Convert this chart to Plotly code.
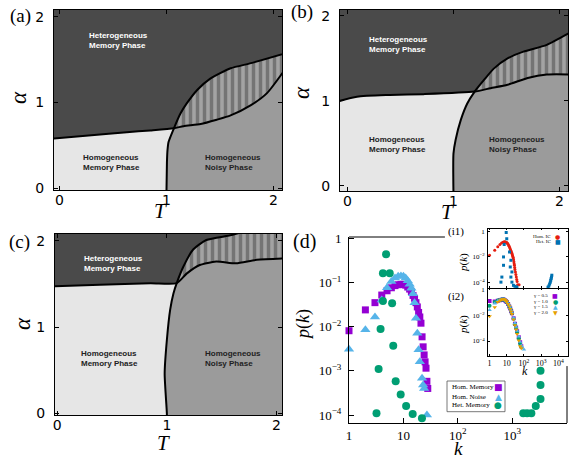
import plotly.graph_objects as go

W, H = 571, 462

# ---------------- Phase diagrams: boundary curves (T, alpha) ----------------
# (a)
a_Aleft_T = [-0.10, 0.30, 0.63, 0.85, 1.07]
a_Aleft_al = [0.575, 0.62, 0.655, 0.675, 0.70]
a_Aright_T = [1.07, 1.16, 1.32, 1.47, 1.60, 1.79, 1.94, 2.15]
a_Aright_al = [0.70, 0.725, 0.75, 0.80, 0.85, 0.97, 1.11, 1.46]
a_Blow_T = [1.00, 1.005, 1.01, 1.02, 1.07]
a_Blow_al = [-0.10, 0.30, 0.44, 0.54, 0.70]
a_Bup_T = [1.07, 1.13, 1.19, 1.29, 1.41, 1.60, 1.79, 2.15]
a_Bup_al = [0.70, 0.87, 0.99, 1.15, 1.28, 1.40, 1.46, 1.59]

# (b)
b_Aleft_T = [-0.10, 0.09, 0.40, 0.72, 1.20]
b_Aleft_al = [0.99, 1.05, 1.07, 1.08, 1.11]
b_Aright_T = [1.20, 1.35, 1.51, 1.70, 1.88, 2.15]
b_Aright_al = [1.11, 1.15, 1.19, 1.27, 1.31, 1.31]
b_Blow_T = [1.00, 1.00, 1.02, 1.07, 1.13, 1.20]
b_Blow_al = [-0.10, 0.38, 0.54, 0.78, 0.97, 1.11]
b_Bup_T = [1.20, 1.29, 1.38, 1.51, 1.66, 1.88, 2.15]
b_Bup_al = [1.11, 1.25, 1.38, 1.50, 1.58, 1.66, 1.84]

# (c)
c_Aleft_T = [-0.10, 0.39, 0.85, 1.09]
c_Aleft_al = [1.47, 1.49, 1.51, 1.51]
c_Aright_T = [1.09, 1.18, 1.30, 1.45, 1.63, 1.82, 2.15]
c_Aright_al = [1.51, 1.62, 1.72, 1.76, 1.74, 1.78, 1.80]
c_Blow_T = [1.00, 1.00, 0.98, 1.00, 1.03, 1.06, 1.09]
c_Blow_al = [-0.10, 0.00, 0.46, 0.85, 1.20, 1.39, 1.51]
c_Bup_T = [1.09, 1.15, 1.24, 1.36, 1.60, 1.80]
c_Bup_al = [1.51, 1.70, 1.90, 2.01, 2.07, 2.15]

phase_ticks = [0, 1, 2]

# ---------------- (d) main degree distributions ----------------
hom_mem_k = [1, 2, 3, 4, 5, 6, 7, 8, 9, 10, 11, 12, 13, 14, 15, 16, 17, 18, 19, 20,
             21, 22, 23, 24, 25, 26, 27, 28, 33]
hom_mem_p = [8.1e-3, 2.4e-2, 3.5e-2, 5.2e-2, 6.5e-2, 7.6e-2, 8.5e-2, 8.9e-2, 9.1e-2, 9.1e-2,
             8.7e-2, 7.9e-2, 7.1e-2, 6.2e-2, 5.1e-2, 4.4e-2, 3.5e-2, 2.8e-2, 2.1e-2, 1.66e-2,
             1.2e-2, 5.9e-3, 3.5e-3, 2.3e-3, 1.6e-3, 1.15e-3, 5.8e-4, 4.0e-4, 6.5e-5]

hom_noise_k = [1, 2, 3, 4, 5, 6, 7, 8, 9, 10, 11, 12, 13, 14, 15, 16, 17, 18, 19, 20,
               22, 23, 24, 27]
hom_noise_p = [3.1e-3, 8.5e-3, 1.66e-2, 4.0e-2, 7.6e-2, 0.105, 0.126, 0.138, 0.141, 0.138,
               0.126, 0.110, 9.1e-2, 7.4e-2, 5.6e-2, 3.5e-2, 1.55e-2, 7.1e-3, 3.0e-3, 1.6e-3,
               6.8e-4, 4.8e-4, 4.0e-4, 1.0e-4]

het_mem_k = [3.2, 3.5, 3.8, 4.2, 4.2, 4.8, 5.6, 6.2, 6.5, 7.2, 8.9, 11.2, 14.8, 21.9,
             1590, 1870, 2240, 2700, 3300, 3300, 3300]
het_mem_p = [1.1e-4, 1.1e-3, 8.9e-3, 0.162, 3.8e-2, 0.437, 0.162, 3.4e-2, 3.7e-3, 5.8e-4,
             2.9e-4, 1.6e-4, 1.05e-4, 8.5e-5,
             1.1e-4, 1.1e-4, 1.1e-4, 1.6e-4, 2.3e-4, 4.8e-4, 1.0e-3]

# ---------------- inset (i1) ----------------
homIC_k = [1, 2, 3, 4, 5, 6, 7, 8, 9, 10, 11, 12, 13, 14, 15, 16, 17, 18, 19, 20,
           21, 22, 23, 24, 25, 26, 27, 28, 29, 30, 32, 34, 36, 38, 40, 43, 52]
homIC_p = [1.3e-2, 3.2e-2, 5.9e-2, 8.9e-2, 0.117, 0.138, 0.145, 0.145, 0.138, 0.129,
           0.112, 9.3e-2, 7.6e-2, 6.3e-2, 5.0e-2, 4.0e-2, 3.2e-2, 2.5e-2, 2.1e-2, 1.74e-2,
           1.41e-2, 1.12e-2, 9.3e-3, 7.9e-3, 5.6e-3, 4.0e-3, 2.8e-3, 2.1e-3, 1.4e-3, 1.0e-3,
           6.3e-4, 4.0e-4, 2.5e-4, 1.6e-4, 1.1e-4, 6.3e-5, 6.3e-5]

hetIC_k = [9.3, 10, 7.1, 14.5, 6.5, 17.4, 6.5, 16, 20, 5.2, 17.4, 4.6, 20, 24.5, 30, 39,
           2500, 2800, 3100, 3400, 3600, 3800, 4000, 4170]
hetIC_p = [0.79, 0.26, 8.9e-2, 2.3e-2, 9.5e-3, 5.2e-3, 2.1e-3, 1.55e-3, 6.3e-4, 2.5e-4,
           2.5e-4, 1.0e-4, 1.0e-4, 5.6e-5, 4.7e-5, 4.2e-5,
           4.0e-5, 5.0e-5, 7.1e-5, 1.0e-4, 1.4e-4, 1.9e-4, 2.5e-4, 3.5e-4]

# ---------------- inset (i2) ----------------
gam_k = [1, 2, 3, 4, 5, 6, 7, 8, 9, 10, 12, 14, 16, 18, 20, 25, 30, 35, 40, 50, 60, 70, 80, 100]
gam05_p = [0.120, 0.112, 0.126, 0.141, 0.151, 0.158, 0.151, 0.135, 0.117, 0.100, 7.1e-2,
           4.7e-2, 3.2e-2, 2.1e-2, 1.41e-2, 5.6e-3, 2.2e-3, 1.1e-3, 5.6e-4, 2.0e-4, 7.9e-5, 4.0e-5]
gam10_p = [5.2e-2, 0.100, 0.132, 0.148, 0.158, 0.162, 0.158, 0.141, 0.120, 0.102, 7.2e-2,
           4.8e-2, 3.2e-2, 2.1e-2, 1.38e-2, 5.2e-3, 2.0e-3, 1.0e-3, 5.0e-4, 1.6e-4, 6.3e-5, 3.5e-5]
gam15_p = [2.5e-2, 7.9e-2, 0.120, 0.145, 0.158, 0.166, 0.162, 0.148, 0.126, 0.107, 7.9e-2,
           5.2e-2, 3.5e-2, 2.4e-2, 1.58e-2, 6.3e-3, 2.5e-3, 1.26e-3, 6.3e-4, 2.2e-4, 8.9e-5,
           4.5e-5, 3.2e-5, 2.2e-5]
gam20_p = [8.3e-3, 4.0e-2, 0.100, 0.132, 0.158, 0.170, 0.166, 0.148, 0.126, 0.105, 7.2e-2,
           4.8e-2, 3.0e-2, 1.9e-2, 1.2e-2, 4.5e-3, 1.66e-3, 7.9e-4, 3.5e-4, 1.1e-4, 4.0e-5, 2.8e-5]

# ---------------- styles ----------------
DARK = "#4a4a4a"
LIGHT = "#e6e6e6"
MID = "#9b9b9b"
PURPLE = "#9400d3"
GREEN = "#009e73"
SKY = "#56b4e9"
ORANGE = "#e69f00"
RED = "#e51e10"
BLUE = "#0072b2"
SERIF = "Liberation Serif"
SANS = "Liberation Sans"


def xdom(x0, x1):
    return [x0 / W, x1 / W]


def ydom(top, bottom):
    return [1 - bottom / H, 1 - top / H]


fig = go.Figure()
shapes = []
annotations = []


def phase_panel(n, AlT, Ala, ArT, Ara, BlT, Bla, BuT, Bua, texts):
    xa = "x" if n == 1 else f"x{n}"
    ya = "y" if n == 1 else f"y{n}"
    # dark background = heterogeneous memory phase
    shapes.append(dict(type="rect", xref=f"{xa} domain", yref=f"{ya} domain",
                       x0=0, x1=1, y0=0, y1=1, fillcolor=DARK, line_width=0, layer="below"))
    # homogeneous memory phase
    lx = AlT + BlT[::-1] + [AlT[0]]
    ly = Ala + Bla[::-1] + [Bla[0]]
    fig.add_trace(go.Scatter(x=lx, y=ly, fill="toself", fillcolor=LIGHT, mode="lines",
                             line=dict(width=0), xaxis=xa, yaxis=ya, hoverinfo="skip",
                             showlegend=False))
    # homogeneous noisy phase
    nx = BlT + ArT[1:] + [ArT[-1]]
    ny = Bla + Ara[1:] + [Bla[0]]
    fig.add_trace(go.Scatter(x=nx, y=ny, fill="toself", fillcolor=MID, mode="lines",
                             line=dict(width=0), xaxis=xa, yaxis=ya, hoverinfo="skip",
                             showlegend=False))
    # coexistence (hatched)
    hx = ArT + [ArT[-1]] + BuT[::-1]
    hy = Ara + [Bua[-1]] + Bua[::-1]
    fig.add_trace(go.Scatter(x=hx, y=hy, fill="toself", fillcolor=MID, mode="lines",
                             line=dict(width=0), xaxis=xa, yaxis=ya, hoverinfo="skip",
                             fillpattern=dict(shape="|", fgcolor="#454545", bgcolor="#a3a3a3",
                                              size=7, solidity=0.5),
                             showlegend=False))
    # boundary lines
    fig.add_trace(go.Scatter(x=AlT + ArT[1:], y=Ala + Ara[1:], mode="lines",
                             line=dict(color="black", width=2, shape="spline", smoothing=0.6),
                             xaxis=xa, yaxis=ya, hoverinfo="skip", showlegend=False))
    fig.add_trace(go.Scatter(x=BlT + BuT[1:], y=Bla + Bua[1:], mode="lines",
                             line=dict(color="black", width=2, shape="spline", smoothing=0.6),
                             xaxis=xa, yaxis=ya, hoverinfo="skip", showlegend=False))
    for (txt, tx, ty, col) in texts:
        annotations.append(dict(text=f"<b>{txt}</b>", x=tx, y=ty, xref=xa, yref=ya,
                                showarrow=False, xanchor="left", yanchor="middle",
                                align="left", font=dict(family=SANS, size=8, color=col)))


phase_panel(1, a_Aleft_T, a_Aleft_al, a_Aright_T, a_Aright_al, a_Blow_T, a_Blow_al,
            a_Bup_T, a_Bup_al,
            [("Heterogeneous<br>Memory Phase", 0.26, 1.73, "white"),
             ("Homogeneous<br>Memory Phase", 0.20, 0.30, "#222222"),
             ("Homogeneous<br>Noisy Phase", 1.34, 0.30, "#222222")])
phase_panel(2, b_Aleft_T, b_Aleft_al, b_Aright_T, b_Aright_al, b_Blow_T, b_Blow_al,
            b_Bup_T, b_Bup_al,
            [("Heterogeneous<br>Memory Phase", 0.18, 1.66, "white"),
             ("Homogeneous<br>Memory Phase", 0.18, 0.49, "#222222"),
             ("Homogeneous<br>Noisy Phase", 1.32, 0.49, "#222222")])
phase_panel(3, c_Aleft_T, c_Aleft_al, c_Aright_T, c_Aright_al, c_Blow_T, c_Blow_al,
            c_Bup_T, c_Bup_al,
            [("Heterogeneous<br>Memory Phase", 0.23, 1.74, "white"),
             ("Homogeneous<br>Memory Phase", 0.20, 0.63, "#222222"),
             ("Homogeneous<br>Noisy Phase", 1.33, 0.63, "#222222")])

# ---------------- (d) main ----------------
fig.add_trace(go.Scatter(x=hom_mem_k, y=hom_mem_p, mode="markers", xaxis="x4", yaxis="y4",
                         marker=dict(symbol="square", size=7, color=PURPLE), cliponaxis=False,
                         showlegend=False))
fig.add_trace(go.Scatter(x=hom_noise_k, y=hom_noise_p, mode="markers", xaxis="x4", yaxis="y4",
                         marker=dict(symbol="triangle-up", size=9, color=SKY), cliponaxis=False,
                         showlegend=False))
fig.add_trace(go.Scatter(x=het_mem_k, y=het_mem_p, mode="markers", xaxis="x4", yaxis="y4",
                         marker=dict(symbol="circle", size=8, color=GREEN), cliponaxis=False,
                         showlegend=False))

# ---------------- insets ----------------
fig.add_trace(go.Scatter(x=homIC_k, y=homIC_p, mode="markers", xaxis="x5", yaxis="y5",
                         marker=dict(symbol="circle", size=3, color=RED), showlegend=False))
fig.add_trace(go.Scatter(x=hetIC_k, y=hetIC_p, mode="markers", xaxis="x5", yaxis="y5",
                         marker=dict(symbol="square", size=3, color=BLUE), showlegend=False))
for vals, sym, col in [(gam05_p, "square", PURPLE), (gam10_p, "circle", GREEN),
                       (gam15_p, "triangle-up", SKY), (gam20_p, "triangle-down", ORANGE)]:
    fig.add_trace(go.Scatter(x=gam_k[:len(vals)], y=vals, mode="markers", xaxis="x6", yaxis="y6",
                             marker=dict(symbol=sym, size=4, color=col), showlegend=False))

# ---------------- axes ----------------
def phase_axis(dom, rng, standoff):
    return dict(domain=dom, range=rng, tickvals=phase_ticks, showgrid=False, zeroline=False,
                showline=True, linecolor="black", linewidth=1, mirror="ticks",
                ticks="inside", ticklen=4, tickcolor="black", ticklabelstandoff=standoff,
                tickfont=dict(family="DejaVu Sans", size=14, color="black"))


def sup(e):
    return f"10<sup>{e}</sup>"


layout = dict(
    width=W, height=H, margin=dict(l=0, r=0, t=0, b=0, autoexpand=False),
    paper_bgcolor="white", plot_bgcolor="white", showlegend=False,
    xaxis=dict(**phase_axis(xdom(54, 282), [-0.05, 2.08], -3), anchor="y"),
    yaxis=dict(**phase_axis(ydom(10, 190), [-0.02, 2.08], 6), anchor="x"),
    xaxis2=dict(**phase_axis(xdom(340, 568), [-0.07, 2.08], -3), anchor="y2"),
    yaxis2=dict(**phase_axis(ydom(10, 191), [-0.06, 2.07], 6), anchor="x2"),
    xaxis3=dict(**phase_axis(xdom(55, 282), [-0.02, 2.05], -3), anchor="y3"),
    yaxis3=dict(**phase_axis(ydom(234, 415), [-0.02, 2.08], 6), anchor="x3"),
    xaxis4=dict(domain=xdom(349, 567), type="log", range=[0, 4.005], anchor="y4",
                tickvals=[1, 10, 100, 1000, 10000],
                ticktext=["1", "10", sup(2), sup(3), sup(4)],
                showgrid=False, zeroline=False, showline=True, linecolor="black", linewidth=1,
                ticks="inside", ticklen=5, tickcolor="black", ticklabelstandoff=0,
                tickfont=dict(family=SERIF, size=13, color="black")),
    yaxis4=dict(domain=ydom(237, 423), type="log", range=[-4.18, 0.03], anchor="x4",
                tickvals=[1e-4, 1e-3, 1e-2, 1e-1, 1],
                ticktext=[sup("−4"), sup("−3"), sup("−2"), sup("−1"), "1"],
                showgrid=False, zeroline=False, showline=True, linecolor="black", linewidth=1,
                ticks="inside", ticklen=5, tickcolor="black", ticklabelstandoff=4,
                tickfont=dict(family=SERIF, size=13, color="black")),
    xaxis5=dict(domain=xdom(488, 568), type="log", range=[-0.09, 4.56], anchor="y5",
                tickvals=[1, 10, 100, 1000, 10000], showticklabels=False,
                showgrid=False, zeroline=False, showline=True, linecolor="black", linewidth=0.8,
                mirror="ticks", ticks="inside", ticklen=2, tickcolor="black"),
    yaxis5=dict(domain=ydom(228.5, 288), type="log", range=[-4.46, 0.21], anchor="x5",
                tickvals=[1e-4, 1e-2, 1], ticktext=[sup("−4"), sup("−2"), "1"],
                showgrid=False, zeroline=False, showline=True, linecolor="black", linewidth=0.8,
                mirror="ticks", ticks="inside", ticklen=2, tickcolor="black", ticklabelstandoff=1,
                tickfont=dict(family=SERIF, size=7, color="black")),
    xaxis6=dict(domain=xdom(488, 568), type="log", range=[-0.09, 4.56], anchor="y6",
                tickvals=[1, 10, 100, 1000, 10000],
                ticktext=["1", "10", sup(2), sup(3), sup(4)],
                showgrid=False, zeroline=False, showline=True, linecolor="black", linewidth=0.8,
                mirror="ticks", ticks="inside", ticklen=2, tickcolor="black", ticklabelstandoff=0,
                tickfont=dict(family=SERIF, size=8, color="black")),
    yaxis6=dict(domain=ydom(288.5, 355.7), type="log", range=[-5.13, 0.05], anchor="x6",
                tickvals=[1e-4, 1e-2, 1], ticktext=[sup("−4"), sup("−2"), "1"],
                showgrid=False, zeroline=False, showline=True, linecolor="black", linewidth=0.8,
                mirror="ticks", ticks="inside", ticklen=2, tickcolor="black", ticklabelstandoff=1,
                tickfont=dict(family=SERIF, size=7, color="black")),
)

# partial frame of (d) (the inset hides the rest)
shapes.append(dict(type="line", xref="x4 domain", yref="y4 domain", x0=0, x1=0.44, y0=1, y1=1,
                   line=dict(color="black", width=1), layer="above"))
shapes.append(dict(type="line", xref="x4 domain", yref="y4 domain", x0=1, x1=1, y0=0, y1=0.306,
                   line=dict(color="black", width=1), layer="above"))
# legend box of (d)
shapes.append(dict(type="rect", xref="paper", yref="paper", x0=447 / W, x1=505 / W,
                   y0=1 - 411.7 / H, y1=1 - 381 / H, line=dict(color="#555555", width=0.8),
                   fillcolor="white", layer="above"))


def ann(text, x, y, size, family=SERIF, color="black", angle=0, xanchor="center"):
    annotations.append(dict(text=text, x=x / W, y=1 - y / H, xref="paper", yref="paper",
                            showarrow=False, xanchor=xanchor, yanchor="middle",
                            textangle=angle, font=dict(family=family, size=size, color=color)))


# panel labels
ann("(a)", 20, 16.5, 19)
ann("(b)", 302, 12, 19)
ann("(c)", 19, 242, 19)
ann("(d)", 304, 241, 20)
# axis titles
ann("<i>T</i>", 160, 211, 21)
ann("<i>α</i>", 18, 98, 23, angle=-90)
ann("<i>T</i>", 447, 212, 21)
ann("<i>α</i>", 301, 93, 23, angle=-90)
ann("<i>T</i>", 163, 443, 21)
ann("<i>α</i>", 22, 324, 23, angle=-90)
ann("<i>k</i>", 458, 448, 19)
ann("<i>p</i>(<i>k</i>)", 303, 325, 18, angle=-90)
# (d) legend
for txt, yy, glyph, col in [("Hom. Memory", 387.3, "■", PURPLE),
                            ("Hom. Noise", 396.7, "▲", SKY),
                            ("Het. Memory", 405.3, "●", GREEN)]:
    ann(txt, 450, yy, 7, xanchor="left")
    ann(glyph, 498, yy, 9, family="DejaVu Sans", color=col)
# insets text
ann("(i1)", 455.5, 231, 11)
ann("(i2)", 455.5, 296.5, 11)
ann("<i>p</i>(<i>k</i>)", 463, 263, 11, angle=-90)
ann("<i>p</i>(<i>k</i>)", 463, 325, 11, angle=-90)
ann("<i>k</i>", 525, 371, 12)
for txt, yy, glyph, col in [("Hom. IC", 236.5, "●", RED), ("Het. IC", 241.2, "■", BLUE)]:
    ann(txt, 553, yy, 5, xanchor="right")
    ann(glyph, 557.5, yy, 6, family="DejaVu Sans", color=col)
for txt, yy, glyph, col in [("γ = 0.5", 295.7, "■", PURPLE), ("γ = 1.0", 301.2, "●", GREEN),
                            ("γ = 1.5", 306.7, "▲", SKY), ("γ = 2.0", 312.3, "▼", ORANGE)]:
    ann(txt, 550, yy, 5, xanchor="right")
    ann(glyph, 555, yy, 6, family="DejaVu Sans", color=col)

layout["shapes"] = shapes
layout["annotations"] = annotations
fig.update_layout(**layout)
fig.write_html("out.html", config={"displayModeBar": False},
               post_script="document.body.style.margin='0';")
